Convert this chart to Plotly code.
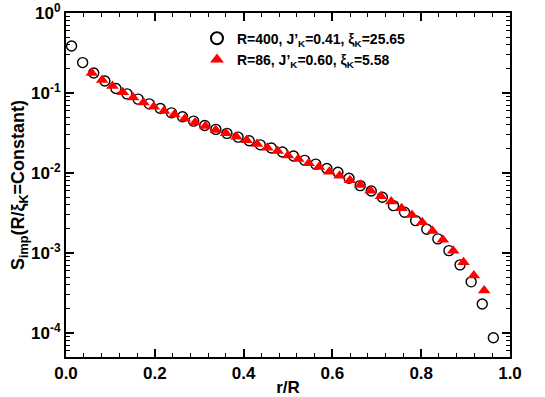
import plotly.graph_objects as go

# R=400 data, points at r/R = (i+0.5)/40
r400 = [(i + 0.5) / 40 for i in range(39)]
s400 = [0.387, 0.240, 0.178, 0.141, 0.114, 0.0975, 0.0838, 0.0732, 0.0641, 0.0565,
        0.0504, 0.0445, 0.0393, 0.0351, 0.0313, 0.0281, 0.0253, 0.0225, 0.0205, 0.0183,
        0.0163, 0.0144, 0.0129, 0.0114, 0.0102, 0.00859, 0.00695, 0.00596, 0.00498, 0.00391,
        0.00323, 0.00254, 0.00198, 0.00150, 0.00107, 0.000711, 0.000436, 0.000230, 0.0000873]

# R=86 data, points at r/R = (i+0.5)/43, i=2..40
r86 = [(i + 0.5) / 43 for i in range(2, 41)]
s86 = [0.178, 0.145, 0.122, 0.102, 0.0880, 0.0762, 0.0672, 0.0594, 0.0540, 0.0476,
       0.0429, 0.0386, 0.0344, 0.0313, 0.0284, 0.0256, 0.0230, 0.0207, 0.0188, 0.0166,
       0.0150, 0.0132, 0.0119, 0.0104, 0.00925, 0.00810, 0.00708, 0.00601, 0.00512, 0.00439,
       0.00362, 0.00299, 0.00243, 0.00189, 0.00146, 0.00107, 0.000769, 0.000524, 0.000340]

ytickvals = [1, 0.1, 0.01, 0.001, 0.0001]
yticktext = ['10<sup>0</sup>', '10<sup>-1</sup>', '10<sup>-2</sup>', '10<sup>-3</sup>', '10<sup>-4</sup>']
xtickvals = [0.0, 0.2, 0.4, 0.6, 0.8, 1.0]
xticktext = ['0.0', '0.2', '0.4', '0.6', '0.8', '1.0']

# log minor ticks 2..9 in each decade
yminor = [m * 10.0 ** e for e in range(-5, 0) for m in range(2, 10)]

font = 'Liberation Sans, Arial, sans-serif'

fig = go.Figure()
fig.add_trace(go.Scatter(
    x=r400, y=s400, mode='markers',
    name='<b>R=400, J’<sub>K</sub>=0.41, ξ<sub>K</sub>=25.65</b>',
    marker=dict(symbol='circle-open', size=10, color='black', line=dict(width=1.4, color='black'))))
fig.add_trace(go.Scatter(
    x=r86, y=s86, mode='markers',
    name='<b>R=86, J’<sub>K</sub>=0.60, ξ<sub>K</sub>=5.58</b>',
    marker=dict(symbol='triangle-up', size=11, color='#ff0000')))

fig.update_layout(
    width=545, height=397,
    margin=dict(l=66, r=35, t=13, b=40),
    plot_bgcolor='white', paper_bgcolor='white',
    font=dict(family=font, color='black'),
    showlegend=True,
    legend=dict(x=0.295, y=0.972, xanchor='left', yanchor='top',
                bgcolor='rgba(0,0,0,0)', font=dict(size=14, family=font),
                itemsizing='constant', tracegroupgap=0, itemwidth=30),
)

fig.update_xaxes(
    range=[0, 1], showgrid=False, zeroline=False, automargin=False,
    showline=True, linecolor='black', linewidth=2, mirror='allticks',
    ticks='inside', ticklen=8, tickwidth=1.5, tickcolor='black',
    tickvals=xtickvals, ticktext=['<b>' + t + '</b>' for t in xticktext],
    tickfont=dict(size=17, family=font),
    minor=dict(dtick=0.04, ticks='inside', ticklen=4, tickwidth=1.2, tickcolor='black', showgrid=False),
    title=dict(text='<b>r/R</b>', font=dict(size=17, family=font), standoff=0),
)
fig.update_yaxes(
    type='log', range=[-4.3, 0], showgrid=False, zeroline=False, automargin=False,
    showline=True, linecolor='black', linewidth=2, mirror='allticks',
    ticks='inside', ticklen=8, tickwidth=1.5, tickcolor='black',
    tickvals=ytickvals, ticktext=['<b>' + t + '</b>' for t in yticktext],
    tickfont=dict(size=17, family=font),
    minor=dict(tickvals=yminor, ticks='inside', ticklen=4, tickwidth=1.2, tickcolor='black', showgrid=False),
    title=dict(text='<b>S<sub>imp</sub>(R/ξ<sub>K</sub>=Constant)</b>', font=dict(size=18, family=font), standoff=0),
)

# drop the browser's default 8px body margin so the figure fills the window
fig.write_html('out.html', config={'displayModeBar': False},
               post_script="document.body.style.margin='0';")
